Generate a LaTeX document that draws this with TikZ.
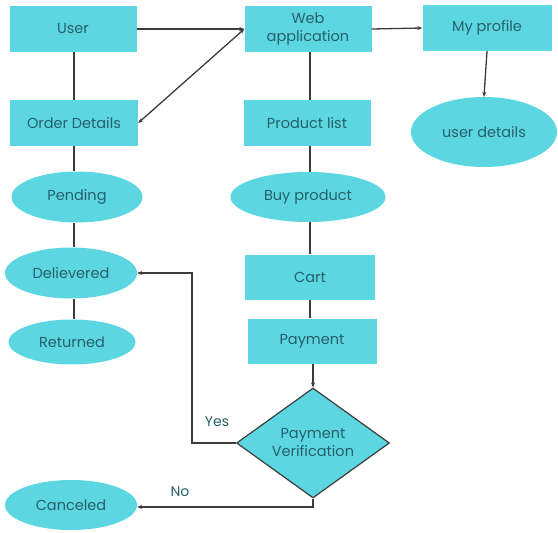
\documentclass[tikz,border=0pt]{standalone}
\usepackage{fontspec}
\setmainfont{Poppins}
\usetikzlibrary{shapes.geometric,arrows.meta}
\definecolor{boxfill}{HTML}{5CD6E0}
\definecolor{txt}{HTML}{27606B}
\definecolor{ln}{HTML}{3C3C3C}
\tikzset{
  base/.style={fill=boxfill,draw=none,text=txt,font=\fontsize{14.5}{18}\selectfont,align=center,inner sep=0pt},
  rbox/.style={base,rectangle,minimum width=127pt,minimum height=46pt},
  ell/.style={base,ellipse,minimum width=132pt,minimum height=51pt},
  dia/.style={base,diamond,draw=ln,line width=1.2pt,minimum width=153pt,minimum height=110pt,aspect=1.4},
  conn/.style={draw=ln,line width=1.3pt},
  arr/.style={conn,-{Stealth[length=5pt,width=4pt]}},
  lbl/.style={text=txt,font=\fontsize{14}{16}\selectfont,inner sep=0pt}
}
\begin{document}
\begin{tikzpicture}[x=1pt,y=-1pt]
\useasboundingbox (0,0) rectangle (558,533);
\node[rbox] (user) at (73,29) {User};
\node[rbox] (web) at (308,29) {Web\\application};
\node[rbox,minimum width=129pt] (prof) at (487,28) {My profile};
\node[ell,minimum width=146pt,minimum height=70pt] (ud) at (484,132) {user details};
\node[rbox,minimum width=128pt] (od) at (74,123) {Order Details};
\node[rbox] (pl) at (307,123) {Product list};
\node[ell,minimum width=131pt] (pend) at (77,197) {Pending};
\node[ell,minimum width=155pt,minimum height=50pt] (buy) at (308,197) {Buy product};
\node[ell] (del) at (71,273) {Delievered};
\node[ell,minimum width=127pt,minimum height=45pt] (ret) at (72,342) {Returned};
\node[rbox,minimum width=130pt,minimum height=45pt] (cart) at (310,277) {Cart};
\node[rbox,minimum width=129pt,minimum height=45pt] (pay) at (312,341) {Payment};
\node[dia] (ver) at (313,443) {Payment\\Verification};
\node[ell,minimum height=50pt] (can) at (71,505) {Canceled};
\coordinate (yc) at (192,443);
\coordinate (nc) at (313,507);
\draw[arr] (user.east) -- (web.west);
\draw[conn,{Stealth[length=5pt,width=4pt]}-{Stealth[length=5pt,width=4pt]}] (od.east) -- (web.west);
\draw[arr] (web.east) -- (prof.west);
\draw[arr] (prof.south) -- (ud.north);
\draw[conn] (user.south -| od.south) -- (od.north);
\draw[conn] (od.south) -- (pend.north -| od.south);
\draw[conn] (pend.south -| od.south) -- (del.north -| od.south);
\draw[conn] (del.south -| od.south) -- (ret.north -| od.south);
\draw[conn] (web.south -| 310,0) -- (pl.north -| 310,0);
\draw[conn] (pl.south -| 310,0) -- (buy.north -| 310,0);
\draw[conn] (buy.south -| 310,0) -- (cart.north -| 310,0);
\draw[conn] (cart.south -| 310,0) -- (pay.north -| 310,0);
\draw[arr] (pay.south -| ver.north) -- (ver.north);
\draw[arr] (ver.west) -- (yc) |- (del.east);
\draw[arr] (ver.south) -- (nc) -- (nc -| can.east);
\node[lbl] (yes) at (217,422) {Yes};
\node[lbl] (no) at (180,492) {No};
\end{tikzpicture}
\end{document}
